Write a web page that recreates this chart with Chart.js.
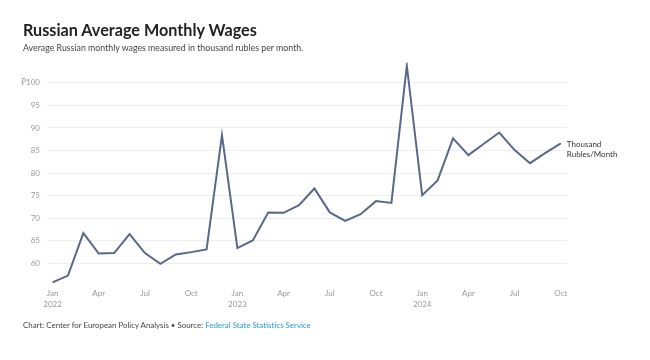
<!DOCTYPE html>
<html><head><meta charset="utf-8">
<script src="https://cdn.jsdelivr.net/npm/chart.js@4"></script>
<style>
html,body{margin:0;padding:0;background:#fff;width:650px;height:360px;overflow:hidden;font-family:Lato,"Noto Sans",sans-serif;}
#wrap{position:absolute;left:0;top:0;width:650px;height:360px;}
.t{position:absolute;left:23px;white-space:nowrap;line-height:1;}
#title{top:22px;font-size:16.2px;font-weight:700;color:#222;font-family:Lato,sans-serif;}
#sub{top:43.5px;font-size:8.8px;color:#444;}
#foot{top:321.5px;font-size:7.9px;color:#444;}
#foot a{color:#2b9ad6;text-decoration:none;}
</style></head>
<body>
<div id="wrap"><canvas id="c" width="650" height="360"></canvas></div>
<div class="t" id="title">Russian Average Monthly Wages</div>
<div class="t" id="sub">Average Russian monthly wages measured in thousand rubles per month.</div>
<div class="t" id="foot">Chart: Center for European Policy Analysis • Source: <a>Federal State Statistics Service</a></div>
<script>
const months = ["Jan","Feb","Mar","Apr","May","Jun","Jul","Aug","Sep","Oct","Nov","Dec"];
const years = [2022, 2023, 2024];
const wages = [
  55.8, 57.3, 66.7, 62.2, 62.3, 66.5, 62.3, 59.9, 62.0, 62.5, 63.1, 88.4,
  63.4, 65.1, 71.3, 71.2, 72.9, 76.6, 71.3, 69.4, 70.9, 73.8, 73.4, 103.8,
  75.1, 78.4, 87.7, 84.0, 86.5, 89.0, 85.1, 82.2, 84.5, 86.6
];
const yTicks = [60, 65, 70, 75, 80, 85, 90, 95, 100];
const seriesLabel = ["Thousand", "Rubles/Month"];

const points = wages.map((v, i) => ({x: i, y: v}));

const endLabel = {
  id: 'endLabel',
  afterDatasetsDraw(chart) {
    const meta = chart.getDatasetMeta(0);
    const last = meta.data[meta.data.length - 1];
    const ctx = chart.ctx;
    ctx.save();
    ctx.font = '8px Lato, "Noto Sans", sans-serif';
    ctx.fillStyle = '#333';
    ctx.textBaseline = 'middle';
    ctx.fillText(seriesLabel[0], last.x + 6, last.y + 0.7);
    ctx.fillText(seriesLabel[1], last.x + 6, last.y + 11);
    ctx.restore();
  }
};

new Chart(document.getElementById('c'), {
  type: 'line',
  data: { datasets: [{ data: points, borderColor: '#58688a', borderWidth: 2, pointRadius: 0, tension: 0, fill: false }] },
  options: {
    responsive: false, animation: false,
    layout: { padding: { left: 0, top: 62.5, right: 83, bottom: 44 } },
    plugins: { legend: { display: false }, tooltip: { enabled: false } },
    scales: {
      x: {
        type: 'linear', min: -0.36, max: 33.4,
        afterBuildTicks(s) { const t = []; for (let i = 0; i < wages.length; i += 3) t.push({value: i}); s.ticks = t; },
        afterFit(s) { s.height = 30; },
        grid: { display: false, drawTicks: false },
        border: { display: false },
        ticks: {
          color: '#999', font: { size: 8, family: 'Lato, "Noto Sans", sans-serif', lineHeight: 1.35 }, padding: 2, maxRotation: 0, autoSkip: false,
          callback(v) { const m = months[v % 12]; return (v % 12 === 0) ? [m, String(years[Math.floor(v / 12)])] : m; }
        }
      },
      y: {
        min: 55, max: 104.5,
        afterBuildTicks(s) { s.ticks = yTicks.map(v => ({value: v})); },
        afterFit(s) { s.width = 47; },
        grid: { color: '#eeeeee', lineWidth: 1, drawTicks: false },
        border: { display: false },
        ticks: { color: '#999', font: { size: 8, family: 'Lato, "Noto Sans", sans-serif' }, padding: 7,
          callback(v) { return v === 100 ? '₽100' : String(v); } }
      }
    }
  },
  plugins: [endLabel]
});
</script>
</body></html>
